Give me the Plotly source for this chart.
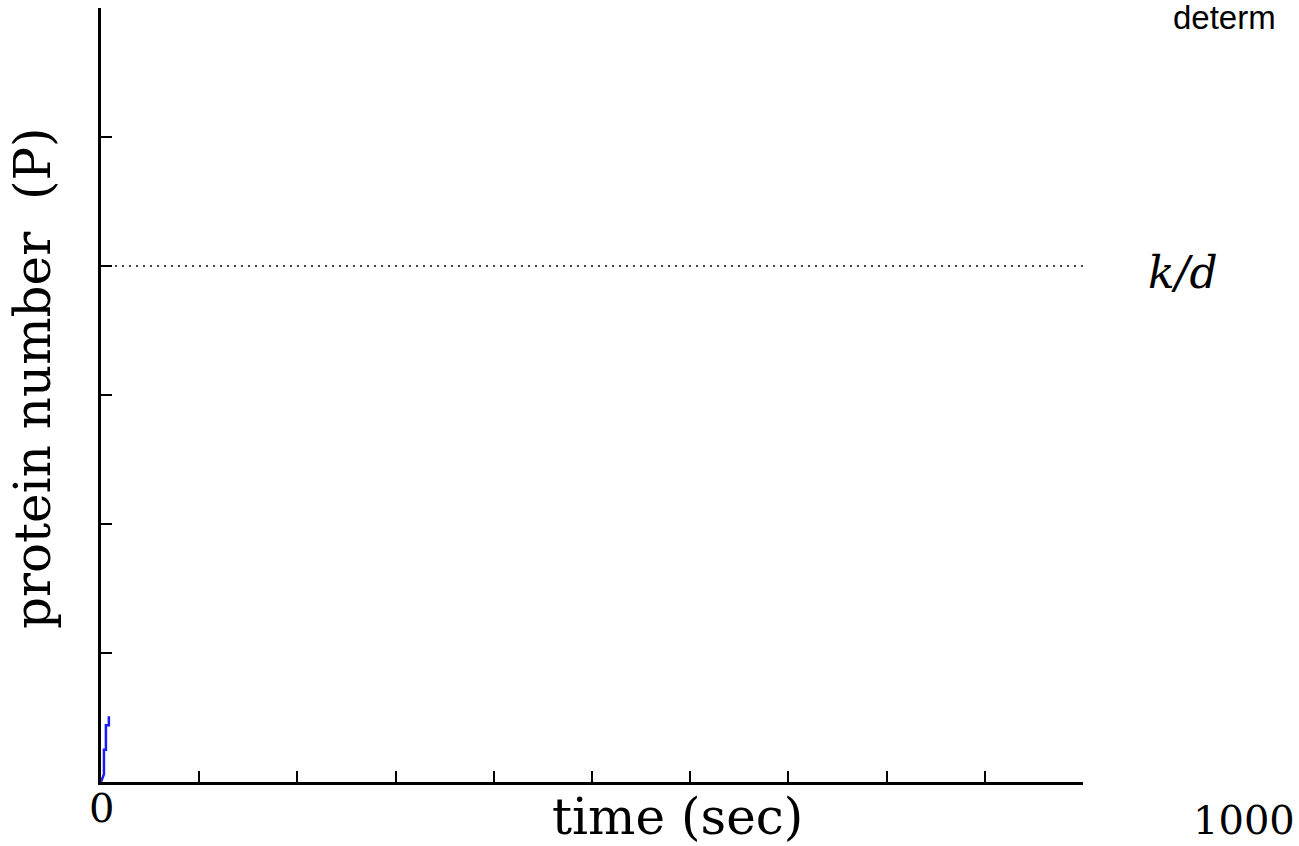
import plotly.graph_objects as go

# data
time_sec = [0, 2, 3, 3, 5, 5, 8, 8]
protein_P = [0, 0.5, 0.6, 2.5, 2.5, 4.4, 4.4, 5.1]
kd_level = 40
x_ticks = [0, 100, 200, 300, 400, 500, 600, 700, 800, 900, 1000]
y_ticks = [0, 10, 20, 30, 40, 50, 60]
x_max = 1000
y_max = 60

W, H = 1299, 846
pl, pr, pt, pb = 101, 1083, 8, 782

fig = go.Figure()
fig.add_trace(go.Scatter(x=[0, x_max], y=[kd_level, kd_level], mode="lines",
                         line=dict(color="#444444", width=2, dash="2px,5px"),
                         hoverinfo="skip", showlegend=False))
fig.add_trace(go.Scatter(x=time_sec, y=protein_P, mode="lines",
                         line=dict(color="#1a1aff", width=2.5),
                         showlegend=False))


def ann(text, px, py, size, family="DejaVu Serif", angle=0, xanchor="center"):
    return dict(text=text, xref="paper", yref="paper",
                x=(px - pl) / (pr - pl), y=(pb - py) / (pb - pt),
                xanchor=xanchor, yanchor="middle", showarrow=False,
                textangle=angle, font=dict(family=family, size=size, color="black"))


fig.update_layout(
    width=W, height=H,
    margin=dict(l=pl, r=W - pr, t=pt, b=H - pb),
    paper_bgcolor="white", plot_bgcolor="white",
    xaxis=dict(range=[0, x_max], tickvals=x_ticks, showticklabels=False,
               ticks="inside", ticklen=11, tickwidth=2, tickcolor="black",
               showline=True, linecolor="black", linewidth=2.5,
               showgrid=False, zeroline=False),
    yaxis=dict(range=[0, y_max], tickvals=y_ticks, showticklabels=False,
               ticks="inside", ticklen=11, tickwidth=2, tickcolor="black",
               showline=True, linecolor="black", linewidth=2.5,
               showgrid=False, zeroline=False),
    annotations=[
        ann("0", 101, 808, 40),
        ann("time (sec)", 677, 817, 50),
        ann("1000", 1244, 820, 40),
        ann("protein number\u00a0\u00a0(P)", 33, 378, 50, angle=-90),
        ann("<i>k/d</i>", 1183, 272, 44),
        ann("determ", 1171, 18, 33, family="Liberation Sans", xanchor="left"),
    ],
)
fig.write_html("out.html", config={"displayModeBar": False},
               post_script="document.body.style.margin='0px';")
